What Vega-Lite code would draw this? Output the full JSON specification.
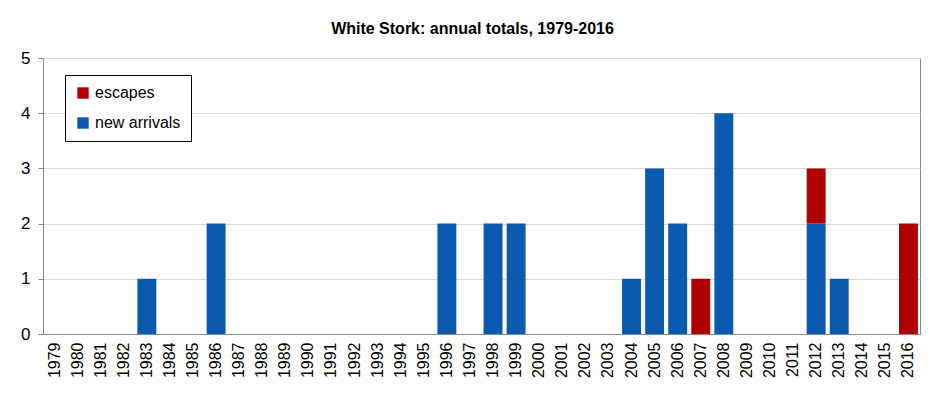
{
  "$schema": "https://vega.github.io/schema/vega-lite/v6.json",
  "autosize": "none",
  "width": 877,
  "height": 276,
  "padding": {"left": 43, "top": 58, "right": 25, "bottom": 66},
  "background": "white",
  "title": {
    "text": "White Stork: annual totals, 1979-2016",
    "font": "Liberation Sans",
    "fontSize": 16,
    "fontWeight": "bold",
    "color": "#000000",
    "anchor": "middle",
    "dx": -9,
    "offset": 12
  },
  "data": {
    "values": [
      {"year": "1983", "type": "new arrivals", "count": 1},
      {"year": "1986", "type": "new arrivals", "count": 2},
      {"year": "1996", "type": "new arrivals", "count": 2},
      {"year": "1998", "type": "new arrivals", "count": 2},
      {"year": "1999", "type": "new arrivals", "count": 2},
      {"year": "2004", "type": "new arrivals", "count": 1},
      {"year": "2005", "type": "new arrivals", "count": 3},
      {"year": "2006", "type": "new arrivals", "count": 2},
      {"year": "2007", "type": "escapes", "count": 1},
      {"year": "2008", "type": "new arrivals", "count": 4},
      {"year": "2012", "type": "new arrivals", "count": 2},
      {"year": "2012", "type": "escapes", "count": 1},
      {"year": "2013", "type": "new arrivals", "count": 1},
      {"year": "2016", "type": "escapes", "count": 2}
    ]
  },
  "mark": {"type": "bar"},
  "encoding": {
    "x": {
      "field": "year",
      "type": "ordinal",
      "title": null,
      "scale": {
        "domain": ["1979","1980","1981","1982","1983","1984","1985","1986","1987","1988","1989","1990","1991","1992","1993","1994","1995","1996","1997","1998","1999","2000","2001","2002","2003","2004","2005","2006","2007","2008","2009","2010","2011","2012","2013","2014","2015","2016"],
        "paddingInner": 0.18,
        "paddingOuter": 0.09
      },
      "axis": {
        "labelAngle": -90,
        "labelAlign": "right",
        "labelBaseline": "middle",
        "labelFont": "Liberation Sans",
        "labelFontSize": 16,
        "labelColor": "#000000",
        "labelPadding": 8,
        "ticks": false,
        "domainColor": "#888888",
        "grid": false
      }
    },
    "y": {
      "field": "count",
      "type": "quantitative",
      "title": null,
      "stack": "zero",
      "scale": {"domain": [0, 5], "nice": false},
      "axis": {
        "values": [0, 1, 2, 3, 4, 5],
        "labelFont": "Liberation Sans",
        "labelFontSize": 17,
        "labelColor": "#000000",
        "labelPadding": 8,
        "tickSize": 5,
        "tickColor": "#888888",
        "domainColor": "#888888",
        "gridColor": "#d9d9d9"
      }
    },
    "color": {
      "field": "type",
      "type": "nominal",
      "title": null,
      "scale": {
        "domain": ["escapes", "new arrivals"],
        "range": ["#b00000", "#0b5ab0"]
      },
      "legend": {
        "orient": "none",
        "legendX": 22,
        "legendY": 17,
        "symbolType": "square",
        "symbolSize": 130,
        "symbolStrokeWidth": 0,
        "labelFont": "Liberation Sans",
        "labelFontSize": 16,
        "labelColor": "#000000",
        "labelOffset": 4,
        "rowPadding": 14,
        "padding": 10,
        "strokeColor": "#000000",
        "fillColor": "white"
      }
    },
    "order": {"field": "type", "sort": "descending"}
  },
  "config": {
    "view": {"stroke": "#888888", "strokeWidth": 1}
  }
}
